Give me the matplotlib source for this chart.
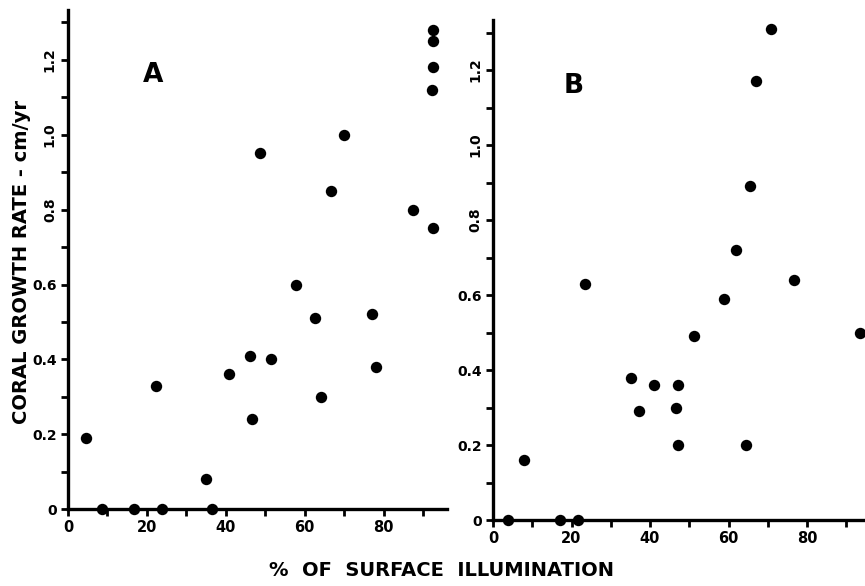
import matplotlib.pyplot as plt
from matplotlib.ticker import MultipleLocator

# panel A: % of surface illumination vs coral growth rate (cm/yr)
illum_a = [4.5, 22.3, 35, 40.9, 46, 46.6, 51.4, 48.7, 57.9, 62.5, 64.2, 66.7,
           70, 77.1, 78.1, 87.4, 92.6, 92.2, 92.4, 92.6, 92.5,
           8.6, 16.7, 23.8, 36.5]
growth_a = [0.19, 0.33, 0.08, 0.36, 0.41, 0.24, 0.40, 0.95, 0.60, 0.51, 0.30, 0.85,
            1.00, 0.52, 0.38, 0.80, 0.75, 1.12, 1.18, 1.25, 1.28,
            0, 0, 0, 0]

# panel B
illum_b = [70.9, 66.9, 65.6, 61.8, 76.8, 23.5, 58.8, 51.2, 93.4, 35.2, 41.1,
           47.2, 37.2, 46.6, 47.1, 64.4, 7.9, 3.8, 17, 21.6]
growth_b = [1.31, 1.17, 0.89, 0.72, 0.64, 0.63, 0.59, 0.49, 0.50, 0.38, 0.36,
            0.36, 0.29, 0.30, 0.20, 0.20, 0.16, 0, 0, 0]

y_labels = {0: '0', 0.2: '0.2', 0.4: '0.4', 0.6: '0.6', 0.8: '0.8', 1.0: '1.0', 1.2: '1.2'}
x_labels = {0: '0', 20: '20', 40: '40', 60: '60', 80: '80'}

plt.rcParams['font.family'] = 'DejaVu Sans'
plt.rcParams['font.weight'] = 'bold'

fig = plt.figure(figsize=(8.65, 5.86), dpi=100)
ax_a = fig.add_axes([0.0786, 0.131, 0.438, 0.852])
ax_b = fig.add_axes([0.570, 0.1126, 0.431, 0.853])


def style_panel(ax, xs, ys, xmax, letter, lx, ly):
    ax.plot(xs, ys, 'o', color='black', markersize=8.2, markeredgewidth=0,
            clip_on=False, zorder=5)
    ax.set_xlim(0, xmax)
    ax.set_ylim(0, 1.333)
    for side in ['top', 'right']:
        ax.spines[side].set_visible(False)
    for side in ['left', 'bottom']:
        ax.spines[side].set_linewidth(2.4)
    ax.set_xticks(list(x_labels.keys()))
    ax.set_xticklabels(list(x_labels.values()), fontsize=10.5, fontweight='bold')
    ax.set_yticks(list(y_labels.keys()))
    ax.set_yticklabels(list(y_labels.values()), fontsize=10, fontweight='bold')
    for lab in ax.get_yticklabels():
        if lab.get_text() in ('0.8', '1.0', '1.2'):
            lab.set_rotation(90)
            lab.set_va('center')
    ax.xaxis.set_minor_locator(MultipleLocator(10))
    ax.yaxis.set_minor_locator(MultipleLocator(0.1))
    ax.tick_params(which='both', width=2, length=5, direction='out', pad=3)
    ax.text(lx, ly, letter, fontsize=19, fontweight='bold')


style_panel(ax_a, illum_a, growth_a, 96, 'A', 19, 1.14)
style_panel(ax_b, illum_b, growth_b, 95, 'B', 18, 1.14)

fig.text(0.025, 0.553, 'CORAL GROWTH RATE - cm/yr', rotation=90, ha='center',
         va='center', fontsize=14, fontweight='bold')
fig.text(0.51, 0.027, '%  OF  SURFACE  ILLUMINATION', ha='center', va='center',
         fontsize=14, fontweight='bold')

fig.savefig('out.png', dpi=100)
